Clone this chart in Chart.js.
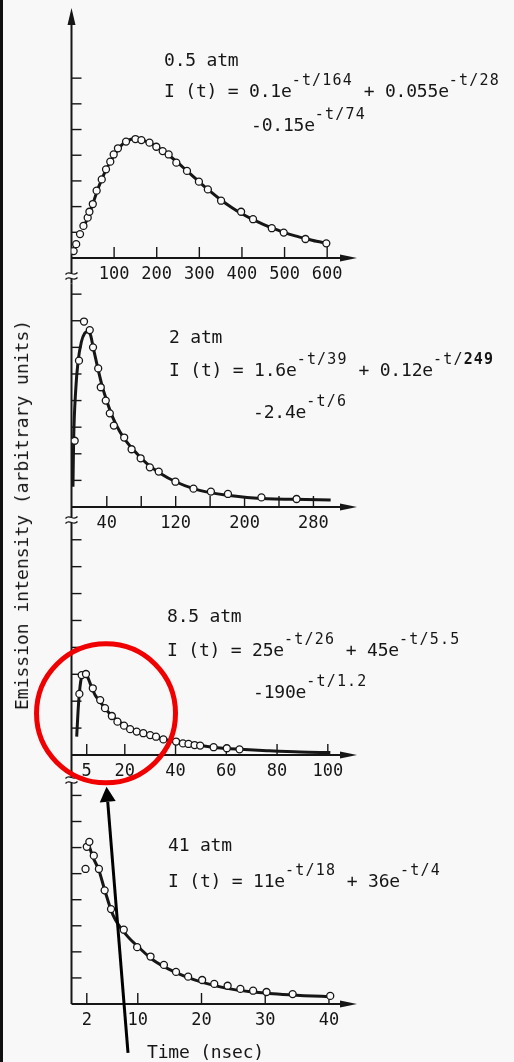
<!DOCTYPE html>
<html>
<head>
<meta charset="utf-8">
<script src="https://cdn.jsdelivr.net/npm/chart.js@4.4.1/dist/chart.umd.min.js"></script>
<style>
  html, body { margin: 0; padding: 0; background: #f8f8f8; width: 514px; height: 1062px; overflow: hidden; }
  #fig { position: relative; width: 514px; height: 1062px; }
  #fig canvas { position: absolute; left: 0; top: 0; }
  .edge { position: absolute; left: 0; top: 0; width: 3px; height: 1062px; background: #111; }
  .t { position: absolute; font-family: 'DejaVu Sans Mono', monospace; font-size: 18px; line-height: 18px;
       letter-spacing: -0.2px; color: #161616; white-space: pre; }
  .t sup { font-size: 15px; letter-spacing: 1.2px; position: relative; top: -12.5px; vertical-align: baseline; line-height: 0; }
  .ytitle { left: 22px; top: 515px; transform: translate(-50%, -50%) rotate(-90deg); letter-spacing: 0px; }
</style>
</head>
<body>
<div id="fig">
  <div class="edge"></div>
  <canvas id="c05" width="514" height="1062"></canvas>
  <canvas id="c2" width="514" height="1062"></canvas>
  <canvas id="c41" width="514" height="1062"></canvas>
  <canvas id="c85" width="514" height="1062"></canvas>

  <div class="t" style="left:164px; top:51px;">0.5 atm</div>
  <div class="t" style="left:164px; top:82px;">I (t) = 0.1e<sup>-t/164</sup> + 0.055e<sup>-t/28</sup></div>
  <div class="t" style="left:251px; top:116px;">-0.15e<sup>-t/74</sup></div>

  <div class="t" style="left:169px; top:328px;">2 atm</div>
  <div class="t" style="left:169px; top:361px;">I (t) = 1.6e<sup>-t/39</sup> + 0.12e<sup>-t/<b>249</b></sup></div>
  <div class="t" style="left:253px; top:403px;">-2.4e<sup>-t/6</sup></div>

  <div class="t" style="left:167px; top:607px;">8.5 atm</div>
  <div class="t" style="left:167px; top:641px;">I (t) = 25e<sup>-t/26</sup> + 45e<sup>-t/5.5</sup></div>
  <div class="t" style="left:253px; top:683px;">-190e<sup>-t/1.2</sup></div>

  <div class="t" style="left:168px; top:836px;">41 atm</div>
  <div class="t" style="left:168px; top:872px;">I (t) = 11e<sup>-t/18</sup> + 36e<sup>-t/4</sup></div>

  <div class="t ytitle">Emission intensity (arbitrary units)</div>
  <div class="t" style="left:147px; top:1043px;">Time (nsec)</div>
</div>

<script>
// ---- 0.5 atm: measured emission (open circles) and fitted decay curve ----
const t05 = [5, 11, 20, 28, 38, 42, 50, 59, 71, 81, 91, 99, 109, 128, 150, 164, 183, 199, 214, 228, 246, 271, 299, 320, 351, 398, 426, 470, 498, 549, 598];
const i05 = [0.27, 0.54, 0.93, 1.25, 1.57, 1.80, 2.10, 2.62, 3.06, 3.45, 3.75, 4.03, 4.27, 4.53, 4.63, 4.59, 4.49, 4.33, 4.16, 4.03, 3.71, 3.39, 2.97, 2.67, 2.23, 1.80, 1.51, 1.16, 0.99, 0.74, 0.57];
const fitT05 = [28, 35, 40, 50, 60, 70, 80, 90, 100, 110, 120, 130, 140, 150, 160, 170, 180, 195, 210, 230, 250, 275, 300, 325, 350, 375, 400, 425, 450, 475, 500, 525, 550, 575, 600];
const fitI05 = [1.15, 1.45, 1.66, 2.10, 2.60, 3.02, 3.40, 3.72, 4.00, 4.25, 4.43, 4.55, 4.62, 4.64, 4.62, 4.57, 4.50, 4.38, 4.22, 3.98, 3.70, 3.33, 2.96, 2.60, 2.27, 1.98, 1.72, 1.50, 1.31, 1.14, 0.99, 0.86, 0.75, 0.65, 0.57];

// ---- 2 atm ----
const t2 = [2.7, 7.7, 13.5, 20.2, 24, 30, 33, 38.8, 43.5, 48.2, 60.2, 68.8, 79.3, 90, 100.3, 119.7, 140.7, 160.9, 180.7, 219.6, 260.4];
const i2 = [2.49, 5.50, 6.97, 6.65, 6.00, 5.21, 4.50, 4.00, 3.52, 3.06, 2.61, 2.17, 1.83, 1.49, 1.33, 0.95, 0.69, 0.58, 0.49, 0.36, 0.30];
const fitT2 = [0.7, 1.5, 3.9, 6.6, 10.5, 14.3, 17.5, 21, 24, 28.7, 33.8, 39.6, 47.4, 55.2, 62.9, 74.6, 86.3, 101.8, 121.2, 140.7, 160.1, 179.6, 202.9, 226.2, 257.3, 300];
const fitI2 = [0.76, 2.52, 4.40, 5.46, 6.21, 6.53, 6.59, 6.47, 6.03, 5.34, 4.65, 4.02, 3.33, 2.83, 2.46, 2.02, 1.64, 1.27, 0.93, 0.69, 0.54, 0.44, 0.36, 0.31, 0.29, 0.26];

// ---- 8.5 atm ----
const t85 = [2.1, 3.0, 4.7, 7.4, 10.3, 12.2, 14.9, 17.1, 19.7, 22.1, 24.7, 27.3, 30.0, 32.3, 35.2, 40.2, 42.9, 45.1, 47.5, 49.7, 55.0, 60.2, 65.2];
const i85 = [2.27, 2.97, 3.01, 2.48, 2.04, 1.74, 1.45, 1.24, 1.09, 0.96, 0.87, 0.81, 0.74, 0.68, 0.58, 0.50, 0.43, 0.41, 0.37, 0.35, 0.29, 0.25, 0.21];
const fitT85 = [1.05, 1.7, 2.36, 3.0, 3.9, 5.0, 6.3, 8.3, 10.3, 12.9, 16.8, 20.8, 26.0, 31.3, 36.6, 43.1, 49.7, 56.3, 65.5, 76.0, 89.1, 101.0];
const fitI85 = [0.68, 1.80, 2.54, 2.91, 3.04, 2.97, 2.67, 2.23, 1.98, 1.65, 1.30, 1.05, 0.83, 0.68, 0.56, 0.43, 0.35, 0.27, 0.21, 0.16, 0.11, 0.09];

// ---- 41 atm ----
const t41 = [1.8, 2.0, 2.4, 3.1, 3.9, 4.8, 5.8, 7.8, 9.9, 12.0, 14.1, 16.0, 17.9, 20.1, 22.0, 24.1, 26.1, 28.1, 30.2, 34.3, 40.2];
const i41 = [5.18, 6.03, 6.22, 5.69, 5.18, 4.36, 3.64, 2.85, 2.18, 1.82, 1.50, 1.23, 1.05, 0.92, 0.77, 0.70, 0.58, 0.51, 0.46, 0.38, 0.31];
const fitT41 = [2.3, 2.9, 3.9, 4.8, 6.1, 8.2, 10.3, 12.4, 15.1, 17.7, 20.3, 24, 27.7, 31.9, 36.1, 40.2];
const fitI41 = [6.12, 5.67, 5.13, 4.38, 3.42, 2.65, 2.14, 1.69, 1.31, 1.03, 0.82, 0.60, 0.47, 0.38, 0.32, 0.28];

// ---- tick marks and tick labels (time axes in nsec) ----
const xTicks05 = [100, 200, 300, 400, 500, 600];
const xLabels05 = [100, 200, 300, 400, 500, 600];
const xTicks2 = [40, 80, 120, 160, 200, 240, 280];
const xLabels2 = [40, 120, 200, 280];
const xTicks85 = [5, 20, 40, 60, 80, 100];
const xLabels85 = [5, 20, 40, 60, 80, 100];
const xTicks41 = [2, 10, 20, 30, 40];
const xLabels41 = [2, 10, 20, 30, 40];
const yTicks05 = [1, 2, 3, 4, 5, 6, 7];
const yTicks2 = [1, 2, 3, 4, 5, 6, 7, 8];
const yTicks85 = [1, 2, 3, 4, 5, 6, 7, 8];
const yTicks41 = [1, 2, 3, 4, 5, 6, 7, 8];

const INK = '#161616';
const PAPER = '#f8f8f8';
const W = 514, H = 1062;
const AXIS_LEFT = 71.5, AXIS_RIGHT = 357, XAXIS_BOX = 30;

// Panel frames: plot top, x-axis line, scale ranges, break-mark offset below the x axis
const panels = [
  { id: 'c05', t: t05, i: i05, ft: fitT05, fi: fitI05, xt: xTicks05, xl: xLabels05, yt: yTicks05,
    top: 8, axis: 258, xMin: 0, xMax: 670, yMax: 9.73, arrowTop: true, breakGap: 18 },
  { id: 'c2', t: t2, i: i2, ft: fitT2, fi: fitI2, xt: xTicks2, xl: xLabels2, yt: yTicks2,
    top: 283.5, axis: 507, xMin: -1, xMax: 330.6, yMax: 8.4, breakGap: 13 },
  { id: 'c85', t: t85, i: i85, ft: fitT85, fi: fitI85, xt: xTicks85, xl: xLabels85, yt: yTicks85,
    top: 529, axis: 755, xMin: -1, xMax: 111.5, yMax: 8.4, breakGap: 25, highlight: true },
  { id: 'c41', t: t41, i: i41, ft: fitT41, fi: fitI41, xt: xTicks41, xl: xLabels41, yt: yTicks41,
    top: 785, axis: 1004, xMin: -0.4, xMax: 44.4, yMax: 8.4 }
];
panels.forEach((p, k) => { p.tail = k < panels.length - 1 ? panels[k + 1].top - p.axis : 0; });

function line(ctx, x1, y1, x2, y2) { ctx.beginPath(); ctx.moveTo(x1, y1); ctx.lineTo(x2, y2); ctx.stroke(); }

// Axis lines, inward tick marks, arrowheads and the axis-break marks
function axesPlugin(p) {
  return {
    id: 'axes',
    beforeDatasetsDraw(chart) {
      const { ctx, chartArea: a, scales: { x, y } } = chart;
      const x0 = a.left, y0 = y.getPixelForValue(0);
      ctx.save();
      ctx.strokeStyle = INK; ctx.fillStyle = INK; ctx.lineCap = 'butt';
      // vertical axis
      ctx.lineWidth = 2;
      line(ctx, x0, p.arrowTop ? a.top + 12 : a.top, x0, y0 + p.tail);
      if (p.arrowTop) {
        ctx.beginPath(); ctx.moveTo(x0, a.top); ctx.lineTo(x0 - 4, a.top + 17); ctx.lineTo(x0 + 4, a.top + 17); ctx.closePath(); ctx.fill();
      }
      ctx.lineWidth = 1.4;
      p.yt.forEach(v => { const py = y.getPixelForValue(v); line(ctx, x0, py, x0 + 10, py); });
      // horizontal axis with arrow
      ctx.lineWidth = 2;
      line(ctx, x0, y0, a.right - 12, y0);
      ctx.beginPath(); ctx.moveTo(a.right, y0); ctx.lineTo(a.right - 17, y0 - 3.5); ctx.lineTo(a.right - 17, y0 + 3.5); ctx.closePath(); ctx.fill();
      ctx.lineWidth = 1.4;
      p.xt.forEach(v => { const px = x.getPixelForValue(v); line(ctx, px, y0, px, y0 - 11); });
      // break mark on the vertical axis below this panel
      if (p.breakGap) {
        const yb = y0 + p.breakGap;
        ctx.fillStyle = PAPER; ctx.fillRect(x0 - 2, yb - 2.5, 4, 5);
        ctx.lineWidth = 1.3;
        [-2.5, 2.5].forEach(o => {
          ctx.beginPath();
          ctx.moveTo(x0 - 6, yb + o + 1);
          ctx.bezierCurveTo(x0 - 2, yb + o - 4, x0 + 2, yb + o + 4, x0 + 6, yb + o - 1);
          ctx.stroke();
        });
      }
      ctx.restore();
    },
    afterDraw(chart) {
      if (!p.highlight) return;
      const { ctx, scales: { x, y } } = chart;
      // red ring around the early-time part of the 8.5 atm trace, with a pointer arrow
      const cx = x.getPixelForValue(12.6), cy = y.getPixelForValue(1.55), r = 69.5;
      ctx.save();
      ctx.strokeStyle = '#f00000'; ctx.lineWidth = 5;
      ctx.beginPath(); ctx.arc(cx, cy, r, 0, Math.PI * 2); ctx.stroke();
      const tipX = cx + 0.5, tipY = cy + r + 4;
      const tailX = tipX + 21.5, tailY = tipY + 266;
      const len = Math.hypot(tailX - tipX, tailY - tipY);
      const ux = (tipX - tailX) / len, uy = (tipY - tailY) / len;
      const bx = tipX - 15 * ux, by = tipY - 15 * uy;
      ctx.strokeStyle = '#000'; ctx.fillStyle = '#000'; ctx.lineWidth = 3;
      line(ctx, tailX, tailY, bx, by);
      ctx.beginPath(); ctx.moveTo(tipX, tipY);
      ctx.lineTo(bx - 8 * uy, by + 8 * ux); ctx.lineTo(bx + 8 * uy, by - 8 * ux); ctx.closePath(); ctx.fill();
      ctx.restore();
    }
  };
}

panels.forEach(p => {
  const pts = p.t.map((v, k) => ({ x: v, y: p.i[k] }));
  const fit = p.ft.map((v, k) => ({ x: v, y: p.fi[k] }));
  new Chart(document.getElementById(p.id), {
    type: 'scatter',
    data: {
      datasets: [
        { data: pts, showLine: false, pointRadius: 3.5, pointBorderWidth: 1.3,
          pointBackgroundColor: '#fbfbfb', pointBorderColor: INK, order: 0 },
        { data: fit, showLine: true, borderColor: INK, borderWidth: 3, pointRadius: 0,
          cubicInterpolationMode: 'monotone', fill: false, order: 1 }
      ]
    },
    options: {
      responsive: false, animation: false, events: [],
      layout: { padding: { left: AXIS_LEFT, right: W - AXIS_RIGHT, top: p.top, bottom: H - p.axis - XAXIS_BOX } },
      scales: {
        x: {
          type: 'linear', position: 'bottom', min: p.xMin, max: p.xMax,
          grid: { display: false, drawTicks: false }, border: { display: false },
          afterBuildTicks: ax => { ax.ticks = p.xt.map(v => ({ value: v })); },
          afterFit: ax => { ax.height = XAXIS_BOX; },
          ticks: {
            autoSkip: false, maxRotation: 0, padding: 6, color: INK,
            font: { family: "'DejaVu Sans Mono', monospace", size: 17 },
            callback: v => p.xl.includes(v) ? String(v) : ''
          }
        },
        y: { type: 'linear', display: false, min: 0, max: p.yMax }
      },
      plugins: { legend: { display: false }, tooltip: { enabled: false } }
    },
    plugins: [axesPlugin(p)]
  });
});
</script>
</body>
</html>
